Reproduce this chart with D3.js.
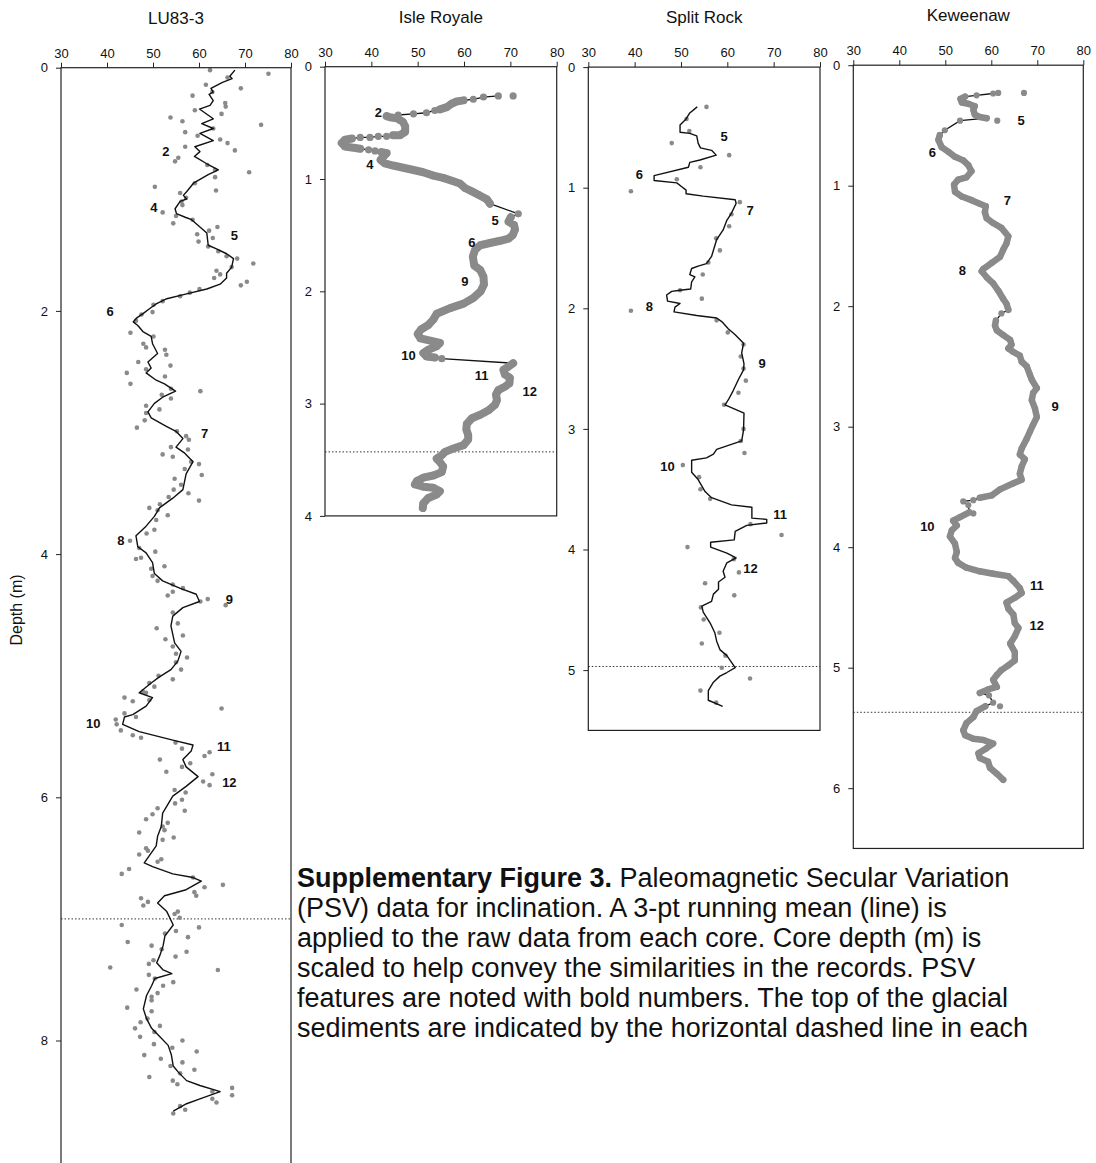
<!DOCTYPE html>
<html>
<head>
<meta charset="utf-8">
<script src="https://cdn.jsdelivr.net/npm/d3@7"></script>
<style>
  body { margin: 0; background: #fff; }
  text { font-family: Arial, "Liberation Sans", sans-serif; fill: #111; }
</style>
</head>
<body>
<svg id="chart" width="1096" height="1163"></svg>
<script>
// ---- data: [inclination (deg), depth (m)] ----
var cores = ["LU83-3", "Isle Royale", "Split Rock", "Keweenaw"];
var incTicks = [30, 40, 50, 60, 70, 80];
var depthTicks = [[0, 2, 4, 6, 8], [0, 1, 2, 3, 4], [0, 1, 2, 3, 4, 5], [0, 1, 2, 3, 4, 5, 6]];
var depthMax = [9.4, 4, 5.5, 6.5];
var glacialTop = [7.0, 3.43, 4.97, 5.37];

var lu83Dots = [
  [62.4,0.02],[75.1,0.05],[66.2,0.08],[61.5,0.14],[69.1,0.17],[62.9,0.20],[58.6,0.23],[65.7,0.29],[65.8,0.32],[59.1,0.35],
  [64.9,0.38],[53.8,0.41],[56.4,0.44],[73.5,0.47],[63.1,0.50],[57.0,0.53],[59.7,0.56],[64.6,0.59],[66.2,0.62],[57.0,0.65],
  [67.8,0.68],[55.5,0.74],[54.8,0.77],[61.8,0.80],[63.5,0.84],[70.9,0.86],[63.5,0.90],[59.1,0.95],[50.4,0.98],[63.7,1.01],
  [55.9,1.03],[57.2,1.07],[56.2,1.10],[56.4,1.13],[52.1,1.19],[55.0,1.22],[58.6,1.25],[54.4,1.28],[64.0,1.31],[62.2,1.34],
  [59.6,1.37],[63.0,1.40],[59.9,1.43],[62.0,1.47],[64.2,1.51],[66.0,1.55],[68.3,1.57],[71.8,1.61],[67.1,1.64],[63.8,1.67],
  [64.6,1.70],[63.3,1.73],[70.4,1.76],[69.1,1.79],[60.1,1.82],[58.0,1.85],[55.9,1.88],[52.1,1.92],[50.1,1.95],[49.9,2.01],
  [47.5,2.03],[46.3,2.08],[45.1,2.18],[50.1,2.21],[47.9,2.27],[52.6,2.32],[48.5,2.30],[52.9,2.36],[46.8,2.42],[53.8,2.45],
  [48.5,2.48],[44.3,2.51],[52.6,2.54],[45.1,2.60],[53.9,2.64],[60.3,2.66],[51.9,2.69],[53.9,2.72],[48.5,2.78],[51.4,2.81],
  [48.5,2.84],[48.2,2.90],[46.5,2.96],[55.2,2.99],[57.2,3.03],[57.8,3.06],[53.9,3.12],[57.6,3.14],[52.1,3.18],[54.3,3.20],
  [58.3,3.24],[60.0,3.26],[56.9,3.30],[60.6,3.35],[54.7,3.38],[56.1,3.43],[54.5,3.47],[57.7,3.50],[53.4,3.53],[60.0,3.56],
  [51.5,3.59],[49.2,3.62],[51.0,3.64],[53.2,3.68],[50.7,3.72],[50.3,3.80],[48.6,3.83],[45.0,3.89],[47.0,3.95],[50.5,3.98],
  [47.4,4.03],[46.3,4.04],[52.5,4.10],[49.6,4.12],[49.9,4.18],[51.0,4.22],[54.3,4.25],[56.5,4.28],[54.3,4.31],[53.2,4.34],
  [61.9,4.37],[60.3,4.39],[65.8,4.42],[54.3,4.48],[55.4,4.57],[50.8,4.61],[56.5,4.67],[52.7,4.70],[54.3,4.76],[55.0,4.82],
  [57.4,4.85],[55.0,4.89],[56.1,4.95],[51.2,5.00],[54.3,5.03],[49.2,5.06],[50.3,5.09],[47.8,5.13],[48.5,5.14],[43.8,5.18],
  [49.2,5.20],[45.6,5.21],[64.9,5.27],[43.8,5.31],[46.3,5.34],[41.9,5.36],[42.1,5.40],[43.0,5.45],[45.6,5.49],[47.4,5.51],
  [54.9,5.55],[56.3,5.60],[62.3,5.63],[61.2,5.66],[51.5,5.69],[58.1,5.72],[56.3,5.75],[52.9,5.79],[62.9,5.81],[60.9,5.87],
  [62.3,5.90],[54.7,5.94],[57.1,5.96],[56.3,6.02],[54.8,6.05],[51.0,6.09],[56.9,6.11],[49.9,6.14],[48.5,6.18],[53.2,6.21],
  [52.1,6.24],[52.5,6.27],[47.0,6.29],[54.5,6.33],[52.1,6.35],[48.5,6.42],[48.9,6.44],[47.0,6.47],[51.8,6.51],[51.0,6.53],
  [44.8,6.59],[43.2,6.63],[58.7,6.66],[65.2,6.72],[61.2,6.74],[59.0,6.78],[59.4,6.81],[47.4,6.83],[48.9,6.86],[47.9,6.89],
  [55.4,6.94],[54.7,6.96],[55.8,6.99],[43.2,7.05],[60.0,7.07],[55.0,7.10],[57.6,7.15],[52.6,7.12],[44.5,7.19],[49.7,7.22],
  [51.9,7.25],[57.3,7.27],[54.9,7.31],[50.1,7.34],[49.1,7.37],[40.7,7.40],[64.1,7.42],[49.1,7.46],[50.4,7.49],[54.4,7.52],
  [52.2,7.55],[46.4,7.58],[51.0,7.61],[49.7,7.64],[49.7,7.67],[44.4,7.73],[49.7,7.76],[48.8,7.82],[47.3,7.85],[51.5,7.88],
  [46.1,7.90],[50.3,7.93],[47.2,7.97],[56.4,8.00],[50.2,8.03],[54.2,8.06],[59.5,8.09],[48.1,8.12],[51.7,8.15],[56.4,8.18],
  [53.8,8.21],[59.0,8.24],[55.9,8.27],[49.2,8.30],[54.3,8.33],[55.3,8.36],[67.2,8.39],[62.9,8.42],[67.2,8.45],[62.9,8.48],
  [63.8,8.51],[55.9,8.54],[57.0,8.57],[54.4,8.60]
];
var lu83Mean = [
  [67.8,0.02],[66.7,0.07],[67.2,0.09],[65.1,0.12],[62.6,0.17],[63.1,0.20],[62.2,0.22],[63.1,0.27],[62.4,0.31],[60.1,0.34],
  [63.1,0.42],[60.6,0.46],[63.1,0.50],[60.2,0.54],[63.1,0.60],[59.1,0.65],[60.2,0.69],[59.0,0.73],[61.7,0.79],[64.2,0.84],
  [62.0,0.88],[58.8,0.95],[57.3,1.02],[56.6,1.05],[57.3,1.08],[55.9,1.10],[54.8,1.16],[55.1,1.20],[57.0,1.23],[58.4,1.25],
  [60.2,1.31],[61.7,1.36],[62.0,1.46],[63.8,1.49],[66.0,1.53],[67.5,1.57],[67.1,1.64],[66.0,1.69],[66.0,1.73],[64.6,1.78],
  [61.7,1.82],[57.3,1.86],[53.0,1.90],[50.8,1.94],[49.3,1.98],[47.9,2.02],[46.4,2.06],[45.7,2.09],[46.7,2.12],[47.8,2.17],
  [49.6,2.21],[49.9,2.27],[51.0,2.35],[48.9,2.42],[49.6,2.47],[48.5,2.51],[50.7,2.57],[52.5,2.60],[54.9,2.66],[52.1,2.71],
  [50.3,2.76],[48.9,2.83],[49.6,2.88],[52.9,2.95],[55.0,2.99],[56.5,3.05],[55.0,3.12],[56.9,3.17],[58.7,3.24],[57.2,3.34],
  [56.5,3.47],[54.3,3.54],[51.4,3.62],[50.3,3.69],[48.5,3.77],[46.3,3.85],[46.7,3.94],[48.5,3.99],[49.9,4.07],[50.3,4.16],
  [52.1,4.22],[55.8,4.28],[59.4,4.33],[60.1,4.39],[56.5,4.44],[54.3,4.51],[53.9,4.59],[54.7,4.73],[56.1,4.80],[55.4,4.88],
  [53.9,4.95],[51.4,5.01],[49.6,5.06],[47.0,5.14],[49.9,5.18],[48.5,5.25],[45.6,5.32],[43.8,5.34],[43.4,5.40],[47.0,5.46],
  [54.3,5.53],[58.7,5.57],[58.3,5.62],[56.5,5.69],[57.2,5.75],[59.8,5.83],[57.2,5.91],[54.3,5.99],[53.2,6.06],[52.1,6.13],
  [51.8,6.24],[51.0,6.32],[50.7,6.40],[48.1,6.54],[49.9,6.57],[54.3,6.63],[58.7,6.66],[60.5,6.69],[57.2,6.76],[52.5,6.81],
  [51.0,6.87],[53.0,6.94],[54.4,7.05],[52.6,7.14],[52.2,7.22],[51.5,7.30],[50.8,7.36],[52.2,7.42],[54.1,7.45],[50.4,7.49],
  [49.7,7.55],[48.6,7.63],[47.9,7.74],[48.6,7.82],[49.7,7.90],[51.5,7.97],[53.3,8.04],[54.0,8.12],[54.4,8.21],[55.5,8.26],
  [57.3,8.33],[60.2,8.37],[64.6,8.42],[60.2,8.48],[57.3,8.52],[54.4,8.58]
];
var lu83Labels = [["2",52.8,0.69],["4",50.2,1.15],["5",67.7,1.38],["6",40.7,2.00],["7",61.2,3.01],
  ["8",43.0,3.89],["9",66.6,4.37],["10",37.0,5.39],["11",65.4,5.58],["12",66.6,5.88]];

// Isle Royale: densely sampled runs of raw data (single-point runs are isolated samples)
var irOutliers = [[70.6,0.26]];
var irRuns = [
  [[67.4,0.26]],[[64.2,0.27]],[[62.0,0.29]],
  [[59.9,0.30],[58.4,0.31],[57.3,0.33],[56.3,0.36],[54.8,0.38]],
  [[53.7,0.39]],[[51.9,0.41]],[[49.1,0.42]],[[45.8,0.43]],
  [[43.3,0.44],[44.0,0.45],[45.5,0.46],[46.8,0.49],[47.3,0.53],[47.3,0.58],[46.2,0.61],[44.7,0.61]],
  [[43.3,0.62]],[[41.5,0.62]],[[39.7,0.63]],[[37.6,0.63]],
  [[35.8,0.64],[34.3,0.65],[33.6,0.68],[34.3,0.71],[35.8,0.72],[37.6,0.73]],
  [[39.4,0.74]],[[40.8,0.75]],
  [[42.2,0.76],[43.3,0.77],[42.6,0.80],[42.0,0.83],[42.9,0.86],[44.7,0.88],[46.9,0.90],[49.1,0.92],[51.2,0.94],[53.4,0.97],
   [55.5,0.99],[57.7,1.02],[59.1,1.04],[60.2,1.08],[61.7,1.11],[63.1,1.14],[64.9,1.18],[65.6,1.22]],
  [[71.7,1.31]],
  [[70.1,1.34],[69.6,1.38],[70.8,1.41],[71.0,1.45],[70.5,1.50],[69.6,1.53],[67.8,1.55],[65.6,1.57],[63.5,1.59],[62.4,1.63],
   [61.9,1.69],[62.2,1.77],[63.5,1.81],[64.2,1.87],[64.3,1.94],[63.6,2.00],[62.0,2.06],[59.9,2.11],[57.0,2.15],[54.1,2.20],
   [53.4,2.25],[52.3,2.30],[50.7,2.34],[50.0,2.38],[50.6,2.42],[52.7,2.44],[54.8,2.46],[54.1,2.49],[52.3,2.52],[51.2,2.55],
   [51.9,2.58],[53.7,2.59]],
  [[55.2,2.60]],
  [[70.6,2.64],[69.6,2.67],[68.5,2.70],[68.8,2.74],[69.9,2.77],[69.8,2.82],[68.8,2.85],[67.4,2.88],[66.9,2.92],[67.1,2.97],
   [66.7,3.01],[65.3,3.06],[63.5,3.10],[61.7,3.13],[60.6,3.18],[60.5,3.23],[60.9,3.28],[60.9,3.32],[59.9,3.37],[57.7,3.40],
   [55.9,3.43],[55.2,3.46],[54.1,3.49],[54.8,3.52],[55.5,3.56],[55.2,3.61],[53.4,3.64],[51.2,3.66],[49.8,3.69],[49.4,3.72],
   [51.2,3.74],[53.4,3.75],[54.8,3.78],[54.1,3.81],[52.3,3.84],[51.2,3.89],[51.1,3.93]]
];
var irLabels = [["2",41.5,0.41],["4",39.7,0.87],["5",66.7,1.37],["6",61.7,1.56],["9",60.2,1.91],
  ["10",48.0,2.57],["11",63.8,2.75],["12",74.2,2.89]];

var srDots = [
  [55.5,0.33],[51.2,0.43],[51.8,0.53],[48.0,0.63],[60.4,0.73],[54.2,0.83],[49.1,0.93],[39.2,1.03],[62.7,1.12],[60.9,1.22],
  [60.4,1.32],[57.6,1.42],[58.4,1.52],[55.9,1.62],[54.7,1.72],[49.8,1.85],[54.5,1.92],[39.2,2.02],[57.7,2.10],[60.1,2.20],
  [63.5,2.30],[62.9,2.40],[63.5,2.50],[64.0,2.60],[62.4,2.70],[59.3,2.80],[63.5,3.00],[62.9,3.10],[63.7,3.20],[50.4,3.30],
  [53.9,3.40],[54.2,3.50],[56.3,3.58],[65.0,3.79],[71.7,3.88],[51.4,3.98],[61.4,4.08],[62.5,4.19],[55.2,4.28],[61.5,4.38],
  [54.3,4.48],[54.9,4.58],[58.3,4.69],[54.5,4.78],[59.6,4.88],[58.8,4.98],[64.9,5.07],[54.2,5.17],[57.6,5.27]
];
var srMean = [
  [53.5,0.33],[51.9,0.38],[51.1,0.43],[49.8,0.48],[49.8,0.54],[51.9,0.55],[53.4,0.57],[53.7,0.63],[54.2,0.67],[56.6,0.69],
  [57.6,0.73],[54.1,0.77],[51.9,0.79],[51.6,0.83],[44.2,0.90],[44.2,0.94],[49.1,0.96],[50.1,0.99],[51.1,1.02],[51.1,1.05],
  [54.8,1.07],[61.7,1.10],[61.9,1.13],[60.9,1.21],[59.9,1.27],[59.1,1.35],[57.7,1.43],[56.6,1.57],[55.5,1.63],[53.7,1.65],
  [52.3,1.67],[51.9,1.72],[53.0,1.74],[52.3,1.78],[52.1,1.84],[49.8,1.85],[48.0,1.86],[46.9,1.89],[47.1,1.94],[49.8,1.96],
  [48.7,1.99],[48.5,2.03],[53.4,2.06],[57.7,2.08],[58.8,2.11],[60.2,2.17],[61.7,2.22],[63.5,2.29],[63.1,2.37],[63.6,2.46],
  [63.5,2.51],[62.4,2.59],[61.3,2.68],[60.2,2.76],[59.5,2.80],[63.6,2.87],[63.5,3.01],[63.1,3.10],[57.7,3.17],[57.0,3.21],
  [55.5,3.24],[52.3,3.26],[52.3,3.36],[53.7,3.42],[55.2,3.52],[56.6,3.57],[60.9,3.63],[65.3,3.65],[65.3,3.74],[68.5,3.75],
  [68.5,3.78],[64.2,3.80],[61.7,3.85],[61.5,3.92],[56.4,3.94],[56.4,3.98],[59.9,4.03],[61.9,4.07],[59.9,4.11],[59.1,4.18],
  [59.5,4.23],[58.1,4.27],[58.1,4.33],[57.0,4.37],[56.6,4.43],[54.5,4.47],[54.8,4.52],[56.3,4.61],[57.3,4.69],[57.7,4.76],
  [58.4,4.83],[59.9,4.88],[61.7,4.98],[59.9,5.02],[58.4,5.05],[57.0,5.10],[55.9,5.17],[55.9,5.25],[59.0,5.30]
];
var srLabels = [["5",59.3,0.57],["6",41.0,0.89],["7",64.9,1.19],["8",43.2,1.98],["9",67.5,2.46],
  ["10",47.1,3.31],["11",71.4,3.71],["12",65.0,4.16]];

var kwOutliers = [[67.1,0.23],[61.3,0.46],[56.1,3.72],[61.9,5.32]];
var kwRuns = [
  [[61.5,0.23]],[[60.4,0.235]],[[56.8,0.25]],
  [[54.3,0.26],[53.3,0.28],[53.6,0.31],[55.0,0.32],[56.4,0.34],[56.1,0.37],[56.4,0.41],[57.5,0.43],[59.0,0.44]],
  [[53.2,0.46]],[[49.9,0.54]],
  [[48.8,0.58],[48.5,0.62],[49.2,0.68],[50.7,0.72],[52.1,0.76],[53.9,0.79],[55.0,0.83],[55.7,0.88],[54.6,0.93],[52.8,0.95],
   [51.9,0.99],[52.1,1.05],[53.6,1.09],[55.7,1.12],[57.5,1.15],[58.8,1.17],[58.6,1.22],[59.0,1.27],[60.4,1.31],[62.2,1.35],
   [63.7,1.42],[63.3,1.48],[62.6,1.53],[61.9,1.59],[60.1,1.64],[58.3,1.69],[57.9,1.71],[59.0,1.76],[60.4,1.81],[61.5,1.87],
   [62.6,1.94],[63.3,1.98],[63.7,2.03]],
  [[62.2,2.06]],
  [[61.0,2.12],[60.8,2.16],[61.2,2.20],[62.6,2.24],[64.1,2.28],[64.4,2.32],[63.7,2.35],[64.8,2.38],[66.2,2.41],[66.6,2.46],
   [67.7,2.50],[68.4,2.57],[68.8,2.61],[69.9,2.68],[69.1,2.72],[68.8,2.78],[69.5,2.85],[69.9,2.92],[69.0,2.99],[68.4,3.04],
   [67.7,3.10],[66.6,3.18],[66.2,3.23],[67.3,3.27],[66.6,3.33],[66.2,3.39],[66.6,3.44],[64.8,3.47],[61.9,3.52],[60.1,3.57],
   [57.5,3.59]],
  [[56.1,3.61]],[[53.9,3.62]],[[55.0,3.65]],
  [[55.2,3.71],[53.2,3.75],[51.7,3.78],[52.5,3.82],[51.4,3.86],[51.0,3.91],[52.1,3.97],[52.5,4.04],[52.1,4.09],[52.8,4.13],
   [54.6,4.17],[57.5,4.20],[60.4,4.22],[63.7,4.24],[64.8,4.28],[66.2,4.34],[66.6,4.38],[65.1,4.42],[63.3,4.46],[63.7,4.51],
   [64.8,4.56],[65.1,4.63],[65.9,4.67],[65.1,4.74],[64.1,4.80],[65.1,4.87],[65.1,4.94],[63.7,4.98],[62.2,5.02],[61.2,5.06],
   [60.4,5.10],[61.2,5.16],[59.3,5.18],[57.5,5.21]],
  [[59.5,5.23]],[[60.4,5.29]],
  [[58.7,5.32],[56.8,5.36],[56.1,5.41],[54.6,5.46],[53.9,5.52],[54.3,5.56],[56.1,5.59],[58.3,5.60],[60.4,5.63],[58.9,5.67],
   [57.2,5.71],[57.5,5.75],[59.3,5.78],[59.7,5.83],[61.2,5.88],[62.6,5.93]]
];
var kwLabels = [["5",66.5,0.46],["6",47.2,0.72],["7",63.5,1.12],["8",53.7,1.70],["9",73.9,2.83],
  ["10",46.1,3.83],["11",69.9,4.32],["12",69.9,4.65]];

var captionLines = [
  ["Supplementary Figure 3.", " Paleomagnetic Secular Variation"],
  ["", "(PSV) data for inclination. A 3-pt running mean (line) is"],
  ["", "applied to the raw data from each core. Core depth (m) is"],
  ["", "scaled to help convey the similarities in the records. PSV"],
  ["", "features are noted with bold numbers. The top of the glacial"],
  ["", "sediments are indicated by the horizontal dashed line in each"]
];

// ---- layout ----
var layout = [
  { x0: 61, x1: 291, y0: 67.7, ppm: 121.6 },
  { x0: 325, x1: 556.7, y0: 66.7, ppm: 112.3 },
  { x0: 588.3, x1: 820, y0: 67.1, ppm: 120.6 },
  { x0: 853.3, x1: 1083.3, y0: 65.2, ppm: 120.5 }
];

var panels = [
  { dots: lu83Dots, mean: lu83Mean, labels: lu83Labels },
  { runs: irRuns, outliers: irOutliers, labels: irLabels, band: 8, r: 3.6 },
  { dots: srDots, mean: srMean, labels: srLabels },
  { runs: kwRuns, outliers: kwOutliers, labels: kwLabels, band: 6.5, r: 3.1 }
];

var GREY = "#8a8a8a";
var svg = d3.select("#chart");

panels.forEach(function (p, i) {
  var L = layout[i];
  var x = d3.scaleLinear().domain([30, 80]).range([L.x0, L.x1]);
  var y = d3.scaleLinear().domain([0, depthMax[i]]).range([L.y0, L.y0 + L.ppm * depthMax[i]]);
  var g = svg.append("g");
  var line = d3.line().x(function (d) { return x(d[0]); }).y(function (d) { return y(d[1]); });

  g.append("text")
    .attr("x", (L.x0 + L.x1) / 2)
    .attr("y", L.y0 - 44)
    .attr("text-anchor", "middle")
    .style("font-size", "17px")
    .text(cores[i]);

  var top = g.append("g").attr("transform", "translate(0," + L.y0 + ")")
    .call(d3.axisTop(x).tickValues(incTicks).tickFormat(d3.format("d"))
      .tickSize(5).tickPadding(5).tickSizeOuter(0));
  var left = g.append("g").attr("transform", "translate(" + L.x0 + ",0)")
    .call(d3.axisLeft(y).tickValues(depthTicks[i]).tickFormat(d3.format("d"))
      .tickSize(5).tickPadding(8).tickSizeOuter(0));
  [top, left].forEach(function (a) {
    a.select(".domain").remove();
    a.selectAll("line").attr("stroke", "#222");
    a.selectAll("text").style("font-size", "13px").attr("fill", "#111")
      .style("font-family", "Arial, 'Liberation Sans', sans-serif");
  });

  g.append("line")
    .attr("x1", L.x0).attr("x2", L.x1)
    .attr("y1", y(glacialTop[i])).attr("y2", y(glacialTop[i]))
    .attr("stroke", "#333").attr("stroke-width", 1)
    .attr("stroke-dasharray", "1.5,2");

  if (p.runs) {
    var all = d3.merge(p.runs);
    g.append("path").datum(all).attr("d", line)
      .attr("fill", "none").attr("stroke", "#111").attr("stroke-width", 1.3);
    g.selectAll(".band").data(p.runs.filter(function (r) { return r.length > 1; }))
      .enter().append("path")
      .attr("d", line)
      .attr("fill", "none").attr("stroke", GREY)
      .attr("stroke-width", p.band)
      .attr("stroke-linejoin", "round").attr("stroke-linecap", "round");
    g.selectAll(".pt").data(all.concat(p.outliers)).enter().append("circle")
      .attr("cx", function (d) { return x(d[0]); })
      .attr("cy", function (d) { return y(d[1]); })
      .attr("r", p.r).attr("fill", GREY);
  } else {
    g.selectAll(".pt").data(p.dots).enter().append("circle")
      .attr("cx", function (d) { return x(d[0]); })
      .attr("cy", function (d) { return y(d[1]); })
      .attr("r", 2.3).attr("fill", GREY);
    g.append("path").datum(p.mean).attr("d", line)
      .attr("fill", "none").attr("stroke", "#111").attr("stroke-width", 1.4)
      .attr("stroke-linejoin", "round");
  }

  g.selectAll(".lab").data(p.labels).enter().append("text")
    .attr("x", function (d) { return x(d[1]); })
    .attr("y", function (d) { return y(d[2]); })
    .attr("dy", "0.36em")
    .attr("text-anchor", "middle")
    .style("font-size", "13px").style("font-weight", "bold")
    .text(function (d) { return d[0]; });

  g.append("rect")
    .attr("x", L.x0).attr("y", L.y0)
    .attr("width", L.x1 - L.x0).attr("height", L.ppm * depthMax[i])
    .attr("fill", "none").attr("stroke", "#222").attr("stroke-width", 1.2);
});

svg.append("text")
  .attr("transform", "translate(22,610) rotate(-90)")
  .attr("text-anchor", "middle")
  .style("font-size", "16px")
  .text("Depth (m)");

// caption
var cap = svg.append("g");
captionLines.forEach(function (c, k) {
  var t = cap.append("text").attr("x", 297).attr("y", 887 + k * 30).style("font-size", "27px");
  if (c[0]) t.append("tspan").style("font-weight", "bold").text(c[0]);
  t.append("tspan").text(c[1]);
});
</script>
</body>
</html>
